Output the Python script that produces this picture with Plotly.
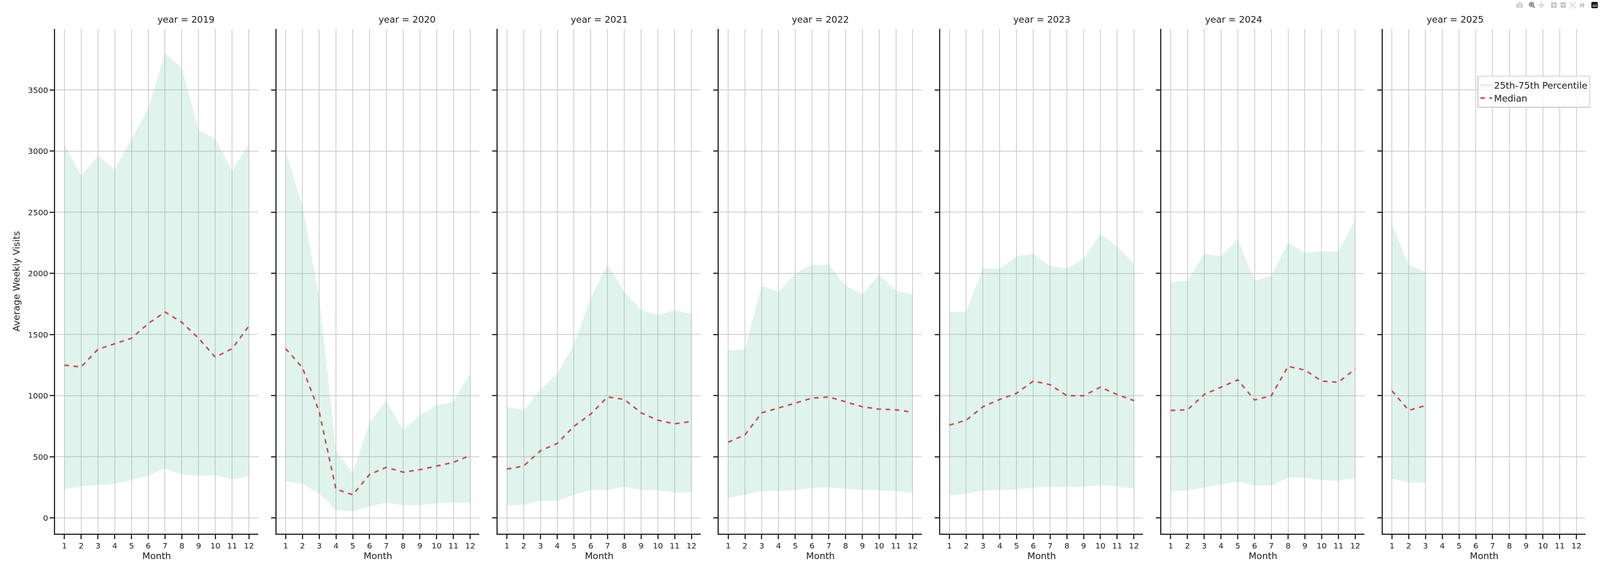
import plotly.graph_objects as go

years = [2019, 2020, 2021, 2022, 2023, 2024, 2025]
months = list(range(1, 13))
median = {
 2019: [1250,1235,1380,1425,1470,1590,1685,1600,1470,1315,1385,1570],
 2020: [1385,1230,870,235,190,355,415,375,395,425,455,510],
 2021: [400,425,550,610,750,850,990,970,860,800,770,790],
 2022: [620,680,860,900,940,980,990,950,910,890,885,865],
 2023: [760,800,910,970,1020,1120,1090,1000,1000,1070,1010,960],
 2024: [880,885,1010,1070,1130,965,1000,1240,1210,1120,1110,1220],
 2025: [1040,880,920],
}
upper = {
 2019: [3050,2800,2960,2850,3100,3350,3800,3680,3170,3100,2840,3060],
 2020: [3000,2550,1800,550,370,780,960,720,840,920,950,1190],
 2021: [910,880,1050,1180,1420,1800,2070,1850,1700,1660,1700,1670],
 2022: [1370,1380,1900,1850,2000,2070,2070,1900,1830,1990,1860,1830],
 2023: [1680,1690,2040,2040,2140,2160,2060,2040,2120,2320,2220,2080],
 2024: [1930,1940,2160,2140,2280,1940,1980,2250,2170,2180,2180,2440],
 2025: [2400,2070,2010],
}
lower = {
 2019: [235,260,270,280,310,345,405,355,345,350,315,340],
 2020: [300,280,200,65,55,95,125,105,105,120,125,125],
 2021: [100,110,140,140,190,230,230,255,230,230,210,210],
 2022: [165,190,220,220,230,245,250,240,230,225,220,205],
 2023: [185,200,225,230,235,250,255,255,255,270,260,240],
 2024: [220,225,250,275,300,265,265,330,330,310,305,330],
 2025: [320,290,290],
}
yticks = [0, 500, 1000, 1500, 2000, 2500, 3000, 3500]

S = 0.78
FILL = "rgba(102,194,165,0.2)"
RED = "#c44e52"
fig = go.Figure()
W = 5250.0
left0, width, step = 181, 666, 726
top, bottom = 1 - 74/1500, 1 - 1366/1500
font = dict(family="DejaVu Sans", color="#262626")
annotations = []
for i, y in enumerate(years):
    n = i + 1
    xa = "x" if n == 1 else f"x{n}"
    ya = "y" if n == 1 else f"y{n}"
    m = months[:len(median[y])]
    fig.add_trace(go.Scatter(x=m, y=upper[y], mode="lines", line=dict(width=0),
                             xaxis=xa, yaxis=ya, showlegend=False, hoverinfo="skip"))
    fig.add_trace(go.Scatter(x=m, y=lower[y], mode="lines", line=dict(width=0), fill="tonexty",
                             fillcolor=FILL, xaxis=xa, yaxis=ya, name="25th-75th Percentile",
                             showlegend=(n == 7), legendrank=2))
    fig.add_trace(go.Scatter(x=m, y=median[y], mode="lines", line=dict(color=RED, width=5*S, dash="dash"),
                             xaxis=xa, yaxis=ya, name="Median", showlegend=(n == 7), legendrank=1))
    l = (left0 + i*step)/W
    r = (left0 + i*step + width)/W
    common = dict(showline=True, linecolor="#262626", linewidth=4*S, ticks="outside", ticklen=14*S,
                  tickwidth=4*S, tickcolor="#262626", showgrid=True, gridcolor="#cccccc", gridwidth=3*S,
                  zeroline=False, tickfont=dict(size=26*S, **font), automargin=False)
    fig.layout[f"xaxis{'' if n==1 else n}"] = dict(domain=[l, r], anchor=ya, range=[0.45, 12.55],
        tickmode="array", tickvals=months, ticktext=[str(v) for v in months],
        title=dict(text="Month", font=dict(size=30*S, **font), standoff=6), **common)
    fig.layout[f"yaxis{'' if n==1 else n}"] = dict(domain=[bottom, top], anchor=xa, range=[-128, 4000],
        tickmode="array", tickvals=yticks, ticktext=[str(v) for v in yticks] if n == 1 else [""]*len(yticks),
        title=dict(text="Average Weekly Visits" if n == 1 else "", font=dict(size=30*S, **font)), **common)
    annotations.append(dict(text=f"year = {y}", x=(l+r)/2, y=top, xref="paper", yref="paper",
                            yanchor="bottom", yshift=10*S, showarrow=False, font=dict(size=30*S, **font)))

fig.update_layout(autosize=True, margin=dict(l=0, r=0, t=0, b=0),
                  paper_bgcolor="white", plot_bgcolor="white", annotations=annotations,
                  legend=dict(x=0.994, y=0.871, xanchor="right", yanchor="top", bgcolor="rgba(255,255,255,0.8)",
                              bordercolor="#d0d0d0", borderwidth=3*S, font=dict(size=30*S, **font),
                              tracegroupgap=8))
fig.write_html("out.html", default_width="100vw", default_height="100vh",
               post_script="document.body.style.margin='0';document.body.style.overflow='hidden';"
                           "Plotly.Plots.resize(document.getElementById('{plot_id}'));")
